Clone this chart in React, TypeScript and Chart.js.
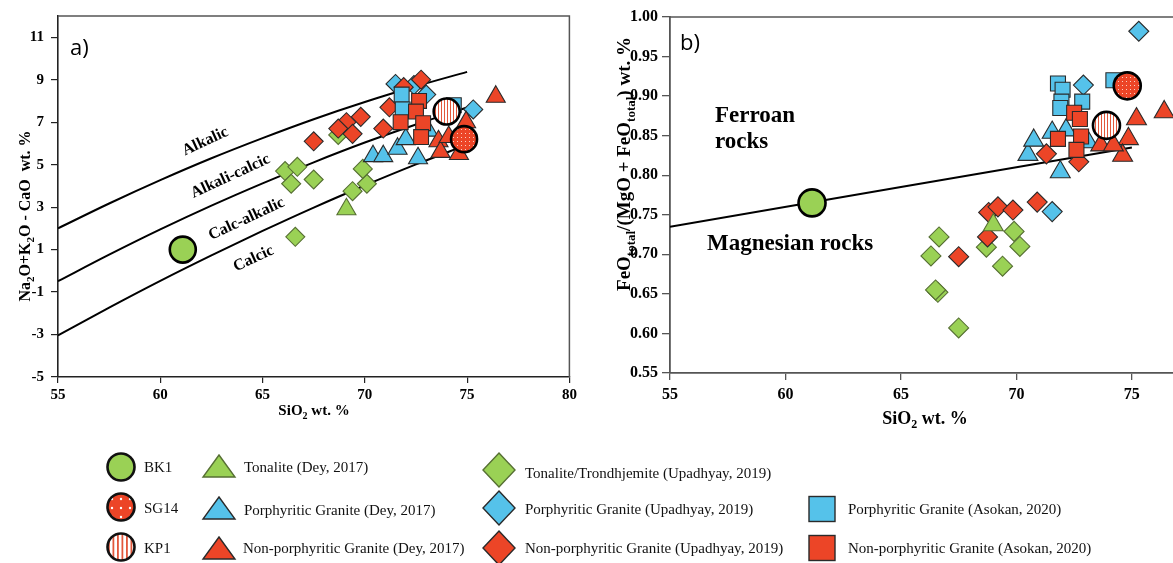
import React, { useEffect, useRef } from "react";
import { Chart, registerables } from "chart.js";

Chart.register(...registerables);

const SERIF = "'Liberation Serif', 'Times New Roman', serif";
const SANS = "'Open Sans', 'Liberation Sans', sans-serif";

const GREEN = "#9AD155";
const BLUE = "#55C2EA";
const RED = "#EC4527";
const EDGE = "#2a2a2a";
const GREEN_EDGE = "#566f33";

type P = [number, number];

// ---------- Panel a : MALI (Na2O+K2O-CaO vs SiO2) ----------
const A_X_TICKS = [55, 60, 65, 70, 75, 80];
const A_Y_TICKS = [-5, -3, -1, 1, 3, 5, 7, 9, 11];

const A_BK1: P[] = [[61.1, 1.0]];
const A_SG14: P[] = [[74.85, 6.2]];
const A_KP1: P[] = [[74.0, 7.5]];
const A_TON_DEY: P[] = [[69.1, 2.9]];
const A_PG_DEY: P[] = [[70.4, 5.4], [70.9, 5.4], [71.6, 5.75], [72.0, 6.2], [72.6, 5.3], [73.1, 6.6]];
const A_NPG_DEY: P[] = [[76.4, 8.2], [74.95, 7.0], [73.6, 6.1], [73.7, 5.6], [74.6, 5.5], [74.1, 6.3]];
const A_TT_UPA: P[] = [[66.1, 4.7], [66.7, 4.9], [66.4, 4.1], [67.5, 4.3], [69.4, 3.75], [70.1, 4.1], [69.9, 4.8], [66.6, 1.6], [68.7, 6.4]];
const A_PG_UPA: P[] = [[71.5, 8.8], [72.4, 8.75], [73.0, 8.3], [75.3, 7.6]];
const A_NPG_UPA: P[] = [[72.75, 9.0], [71.9, 8.65], [71.2, 7.7], [70.9, 6.7], [69.8, 7.25], [69.1, 7.0], [68.7, 6.7], [69.4, 6.45], [67.5, 6.1]];
const A_PG_ASO: P[] = [[71.8, 8.3], [71.85, 7.6], [74.35, 7.8]];
const A_NPG_ASO: P[] = [[72.65, 8.0], [72.5, 7.5], [71.75, 7.0], [72.85, 6.95], [72.75, 6.3]];

// boundary curves
const A_LINE_ALK: P[] = [[55, 2.0], [57.5, 3.17], [60, 4.27], [62.5, 5.3], [65, 6.25], [67.5, 7.14], [70, 7.95], [72.5, 8.69], [75, 9.37]];
const A_LINE_ACA: P[] = [[55, -0.49], [57.5, 0.76], [60, 1.95], [62.5, 3.07], [65, 4.12], [67.5, 5.11], [70, 6.04], [72.5, 6.89], [75, 7.69]];
const A_LINE_CAC: P[] = [[55, -3.04], [57.5, -1.73], [60, -0.47], [62.5, 0.73], [65, 1.88], [67.5, 2.98], [70, 4.02], [72.5, 5.01], [75, 5.94]];

const A_ZONE_NAMES = ["Alkalic", "Alkali-calcic", "Calc-alkalic", "Calcic"];
const A_ZONE_POS: P[] = [[62.2, 6.09], [63.43, 4.45], [64.22, 2.44], [64.56, 0.57]];

// ---------- Panel b : Fe-number vs SiO2 ----------
const B_X_TICKS = [55, 60, 65, 70, 75];
const B_Y_TICKS = [0.55, 0.6, 0.65, 0.7, 0.75, 0.8, 0.85, 0.9, 0.95, 1.0];

const B_BK1: P[] = [[61.15, 0.765]];
const B_SG14: P[] = [[74.8, 0.913]];
const B_KP1: P[] = [[73.9, 0.863]];
const B_TON_DEY: P[] = [[69.0, 0.737]];
const B_PG_DEY: P[] = [[70.5, 0.826], [70.75, 0.844], [71.55, 0.854], [72.15, 0.857], [71.9, 0.804], [73.1, 0.842]];
const B_NPG_DEY: P[] = [[76.4, 0.88], [75.2, 0.871], [74.85, 0.846], [74.6, 0.825], [73.65, 0.838], [74.2, 0.838]];
const B_TT_UPA: P[] = [[66.65, 0.722], [66.3, 0.698], [66.6, 0.652], [66.5, 0.655], [67.5, 0.607], [68.7, 0.709], [69.4, 0.685], [69.9, 0.729], [70.15, 0.71]];
const B_PG_UPA: P[] = [[75.3, 0.982], [72.9, 0.914], [71.55, 0.754]];
const B_NPG_UPA: P[] = [[71.3, 0.827], [72.7, 0.817], [70.9, 0.766], [68.8, 0.753], [69.2, 0.76], [69.85, 0.756], [68.75, 0.722], [67.5, 0.697]];
const B_PG_ASO: P[] = [[71.8, 0.916], [72.0, 0.908], [71.95, 0.893], [71.9, 0.885], [72.85, 0.893], [74.2, 0.92]];
const B_NPG_ASO: P[] = [[72.5, 0.879], [72.75, 0.871], [71.8, 0.846], [72.8, 0.849], [72.6, 0.832]];

const B_LINE: P[] = [[55, 0.735], [75, 0.835]];

const B_TEXTS = ["Ferroan", "rocks", "Magnesian rocks"];
const B_TEXT_POS: P[] = [[56.95, 0.8676], [56.95, 0.8346], [56.6, 0.7053]];

// ---------- Legend ----------
type LegendItem = { label: string; shape: string; fill: string; ix: number; iy: number; tx: number; ty: number };
const LEGEND: LegendItem[] = [
  { label: "BK1", shape: "circle", fill: GREEN, ix: 121, iy: 467, tx: 144, ty: 467 },
  { label: "SG14", shape: "circle", fill: "url(#lgDots)", ix: 121, iy: 507, tx: 144, ty: 508 },
  { label: "KP1", shape: "circle", fill: "url(#lgStripes)", ix: 121, iy: 547, tx: 144, ty: 548 },
  { label: "Tonalite (Dey, 2017)", shape: "triangle", fill: GREEN, ix: 219, iy: 467, tx: 244, ty: 467 },
  { label: "Porphyritic Granite (Dey, 2017)", shape: "triangle", fill: BLUE, ix: 219, iy: 509, tx: 244, ty: 510 },
  { label: "Non-porphyritic Granite (Dey, 2017)", shape: "triangle", fill: RED, ix: 219, iy: 549, tx: 243, ty: 548 },
  { label: "Tonalite/Trondhjemite (Upadhyay, 2019)", shape: "diamond", fill: GREEN, ix: 499, iy: 470, tx: 525, ty: 473 },
  { label: "Porphyritic Granite (Upadhyay, 2019)", shape: "diamond", fill: BLUE, ix: 499, iy: 508, tx: 525, ty: 509 },
  { label: "Non-porphyritic Granite (Upadhyay, 2019)", shape: "diamond", fill: RED, ix: 499, iy: 548, tx: 525, ty: 548 },
  { label: "Porphyritic Granite (Asokan, 2020)", shape: "square", fill: BLUE, ix: 822, iy: 509, tx: 848, ty: 509 },
  { label: "Non-porphyritic Granite (Asokan, 2020)", shape: "square", fill: RED, ix: 822, iy: 548, tx: 848, ty: 548 },
];

// ---------- helpers ----------
const toXY = (a: P[]) => a.map(([x, y]) => ({ x, y }));

function dotPattern(ctx: CanvasRenderingContext2D): CanvasPattern {
  const c = document.createElement("canvas");
  c.width = 4;
  c.height = 4;
  const g = c.getContext("2d")!;
  g.fillStyle = RED;
  g.fillRect(0, 0, 4, 4);
  g.fillStyle = "#fbd0c4";
  g.fillRect(1, 1, 1, 1);
  return ctx.createPattern(c, "repeat")!;
}

function stripePattern(ctx: CanvasRenderingContext2D): CanvasPattern {
  const c = document.createElement("canvas");
  c.width = 3;
  c.height = 3;
  const g = c.getContext("2d")!;
  g.fillStyle = "#ffffff";
  g.fillRect(0, 0, 3, 3);
  g.fillStyle = "#e2583c";
  g.fillRect(0, 0, 1, 3);
  return ctx.createPattern(c, "repeat")!;
}

type Seg = { t: string; sub?: boolean };
function drawRich(ctx: CanvasRenderingContext2D, segs: Seg[], cx: number, cy: number, size: number, rot: number, subRatio = 0.68) {
  ctx.save();
  ctx.translate(cx, cy);
  ctx.rotate(rot);
  const main = `bold ${size}px ${SERIF}`;
  const subSize = Math.round(size * subRatio);
  const subF = `bold ${subSize}px ${SERIF}`;
  let total = 0;
  const widths = segs.map((s) => {
    ctx.font = s.sub ? subF : main;
    const w = ctx.measureText(s.t).width;
    total += w;
    return w;
  });
  let x = -total / 2;
  ctx.textAlign = "left";
  ctx.textBaseline = "alphabetic";
  ctx.fillStyle = "#000";
  const base = size * 0.33;
  segs.forEach((s, i) => {
    ctx.font = s.sub ? subF : main;
    ctx.fillText(s.t, x, base + (s.sub ? size * 0.24 : 0));
    x += widths[i];
  });
  ctx.restore();
}

function markerSets(
  d: { bk1: P[]; sg14: P[]; kp1: P[]; tonDey: P[]; pgDey: P[]; npgDey: P[]; ttUpa: P[]; pgUpa: P[]; npgUpa: P[]; pgAso: P[]; npgAso: P[] },
  dots: CanvasPattern,
  stripes: CanvasPattern,
  sz: { circ: number; tri: number; dia: number; sq: number }
) {
  const base = (data: P[], style: string, r: number, fill: any, edge: string, bw: number) => ({
    data: toXY(data),
    showLine: false,
    pointStyle: style,
    pointRadius: r,
    pointHoverRadius: r,
    pointBackgroundColor: fill,
    pointBorderColor: edge,
    pointBorderWidth: bw,
    clip: false,
  });
  return [
    base(d.sg14, "circle", sz.circ, dots, "#000", 2.6),
    base(d.kp1, "circle", sz.circ, stripes, "#000", 2.6),
    base(d.bk1, "circle", sz.circ, GREEN, "#000", 2.6),
    base(d.npgAso, "rect", sz.sq, RED, EDGE, 1.1),
    base(d.pgAso, "rect", sz.sq, BLUE, EDGE, 1.1),
    base(d.npgDey, "triangle", sz.tri, RED, EDGE, 1.1),
    base(d.pgDey, "triangle", sz.tri, BLUE, EDGE, 1.1),
    base(d.tonDey, "triangle", sz.tri, GREEN, GREEN_EDGE, 1.1),
    base(d.npgUpa, "rectRot", sz.dia, RED, EDGE, 1.1),
    base(d.pgUpa, "rectRot", sz.dia, BLUE, EDGE, 1.1),
    base(d.ttUpa, "rectRot", sz.dia, GREEN, GREEN_EDGE, 1.1),
  ];
}

function lineSet(data: P[]) {
  return {
    data: toXY(data),
    showLine: true,
    pointRadius: 0,
    borderColor: "#000",
    borderWidth: 2,
    fill: false,
    cubicInterpolationMode: "monotone",
  };
}

function makeChartA(canvas: HTMLCanvasElement) {
  const ctx = canvas.getContext("2d")!;
  const dots = dotPattern(ctx);
  const stripes = stripePattern(ctx);
  const plugin = {
    id: "panelA",
    beforeDatasetsDraw(chart: any) {
      const c = chart.ctx as CanvasRenderingContext2D;
      const { x, y } = chart.scales;
      c.save();
      c.font = `bold 16px ${SERIF}`;
      c.fillStyle = "#000";
      c.textAlign = "center";
      c.textBaseline = "middle";
      A_ZONE_NAMES.forEach((name, i) => {
        c.save();
        c.translate(x.getPixelForValue(A_ZONE_POS[i][0]), y.getPixelForValue(A_ZONE_POS[i][1]));
        c.rotate((-25 * Math.PI) / 180);
        c.fillText(name, 0, 0);
        c.restore();
      });
      c.restore();
    },
    afterDraw(chart: any) {
      const c = chart.ctx as CanvasRenderingContext2D;
      const { left, right, top, bottom } = chart.chartArea;
      c.save();
      c.strokeStyle = "#555";
      c.lineWidth = 1.5;
      c.beginPath();
      c.moveTo(left, top);
      c.lineTo(right, top);
      c.lineTo(right, bottom);
      c.stroke();
      c.font = `22px ${SANS}`;
      c.fillStyle = "#000";
      c.textAlign = "left";
      c.textBaseline = "alphabetic";
      c.fillText("a)", left + 12, top + 39);
      c.restore();
      drawRich(c, [{ t: "Na" }, { t: "2", sub: true }, { t: "O+K" }, { t: "2", sub: true }, { t: "O - CaO  wt. %" }], 25, 216, 16, -Math.PI / 2);
      drawRich(c, [{ t: "SiO" }, { t: "2", sub: true }, { t: " wt. %" }], 314, 410, 15, 0);
    },
  };
  return new Chart(canvas, {
    type: "scatter",
    data: {
      datasets: [
        ...markerSets(
          { bk1: A_BK1, sg14: A_SG14, kp1: A_KP1, tonDey: A_TON_DEY, pgDey: A_PG_DEY, npgDey: A_NPG_DEY, ttUpa: A_TT_UPA, pgUpa: A_PG_UPA, npgUpa: A_NPG_UPA, pgAso: A_PG_ASO, npgAso: A_NPG_ASO },
          dots,
          stripes,
          { circ: 13, tri: 11, dia: 9.5, sq: 10.5 }
        ),
        lineSet(A_LINE_ALK),
        lineSet(A_LINE_ACA),
        lineSet(A_LINE_CAC),
      ] as any,
    },
    options: {
      responsive: false,
      animation: false,
      events: [],
      layout: { padding: { top: 13, right: 15, left: 0, bottom: 0 } },
      plugins: { legend: { display: false }, tooltip: { enabled: false } },
      scales: {
        x: {
          type: "linear",
          min: 55,
          max: 80,
          afterBuildTicks: (ax: any) => {
            ax.ticks = A_X_TICKS.map((v) => ({ value: v }));
          },
          afterFit: (s: any) => {
            s.height = 48;
          },
          grid: { display: true, drawOnChartArea: false, drawTicks: true, tickLength: 6, color: "#222", lineWidth: 1.2 },
          border: { display: true, color: "#222", width: 1.6 },
          ticks: { font: { family: SERIF, size: 15, weight: "bold" }, color: "#000", padding: 3, maxRotation: 0, autoSkip: false },
        },
        y: {
          type: "linear",
          min: -5,
          max: 12,
          afterBuildTicks: (ax: any) => {
            ax.ticks = A_Y_TICKS.map((v) => ({ value: v }));
          },
          afterFit: (s: any) => {
            s.width = 58;
          },
          grid: { display: true, drawOnChartArea: false, drawTicks: true, tickLength: 7, color: "#222", lineWidth: 1.2 },
          border: { display: true, color: "#222", width: 1.6 },
          ticks: { font: { family: SERIF, size: 15, weight: "bold" }, color: "#000", padding: 7, autoSkip: false },
        },
      },
    } as any,
    plugins: [plugin],
  });
}

function makeChartB(canvas: HTMLCanvasElement) {
  const ctx = canvas.getContext("2d")!;
  const dots = dotPattern(ctx);
  const stripes = stripePattern(ctx);
  const plugin = {
    id: "panelB",
    beforeDatasetsDraw(chart: any) {
      const c = chart.ctx as CanvasRenderingContext2D;
      const { x, y } = chart.scales;
      c.save();
      c.font = `bold 23px ${SERIF}`;
      c.fillStyle = "#000";
      c.textAlign = "left";
      c.textBaseline = "alphabetic";
      B_TEXTS.forEach((t, i) => {
        c.fillText(t, x.getPixelForValue(B_TEXT_POS[i][0]), y.getPixelForValue(B_TEXT_POS[i][1]));
      });
      c.restore();
    },
    afterDraw(chart: any) {
      const c = chart.ctx as CanvasRenderingContext2D;
      const { left, right, top } = chart.chartArea;
      c.save();
      c.strokeStyle = "#555";
      c.lineWidth = 1.5;
      c.beginPath();
      c.moveTo(left, top);
      c.lineTo(right + 20, top);
      c.stroke();
      c.font = `22px ${SANS}`;
      c.fillStyle = "#000";
      c.textAlign = "left";
      c.textBaseline = "alphabetic";
      c.fillText("b)", left + 10, top + 33);
      c.restore();
      drawRich(
        c,
        [{ t: "FeO" }, { t: "total", sub: true }, { t: "/(MgO + FeO" }, { t: "total", sub: true }, { t: ") wt. %" }],
        39,
        164,
        19,
        -Math.PI / 2,
        0.66
      );
      drawRich(c, [{ t: "SiO" }, { t: "2", sub: true }, { t: " wt. %" }], 340, 418, 18, 0);
    },
  };
  return new Chart(canvas, {
    type: "scatter",
    data: {
      datasets: [
        ...markerSets(
          { bk1: B_BK1, sg14: B_SG14, kp1: B_KP1, tonDey: B_TON_DEY, pgDey: B_PG_DEY, npgDey: B_NPG_DEY, ttUpa: B_TT_UPA, pgUpa: B_PG_UPA, npgUpa: B_NPG_UPA, pgAso: B_PG_ASO, npgAso: B_NPG_ASO },
          dots,
          stripes,
          { circ: 13.5, tri: 11.5, dia: 10, sq: 10.6 }
        ),
        lineSet(B_LINE),
      ] as any,
    },
    options: {
      responsive: false,
      animation: false,
      events: [],
      layout: { padding: { top: 17, right: 0, left: 0, bottom: 0 } },
      plugins: { legend: { display: false }, tooltip: { enabled: false } },
      scales: {
        x: {
          type: "linear",
          min: 55,
          max: 76.82,
          afterBuildTicks: (ax: any) => {
            ax.ticks = B_X_TICKS.map((v) => ({ value: v }));
          },
          afterFit: (s: any) => {
            s.height = 57;
          },
          grid: { display: true, drawOnChartArea: false, drawTicks: true, tickLength: 7, color: "#555", lineWidth: 1.3 },
          border: { display: true, color: "#555", width: 1.8 },
          ticks: { font: { family: SERIF, size: 16, weight: "bold" }, color: "#000", padding: 5, maxRotation: 0, autoSkip: false },
        },
        y: {
          type: "linear",
          min: 0.55,
          max: 1.0,
          afterBuildTicks: (ax: any) => {
            ax.ticks = B_Y_TICKS.map((v) => ({ value: v }));
          },
          afterFit: (s: any) => {
            s.width = 85;
          },
          grid: { display: true, drawOnChartArea: false, drawTicks: true, tickLength: 8, color: "#555", lineWidth: 1.3 },
          border: { display: true, color: "#555", width: 1.8 },
          ticks: {
            font: { family: SERIF, size: 16, weight: "bold" },
            color: "#000",
            padding: 4,
            autoSkip: false,
            callback: (v: any) => Number(v).toFixed(2),
          },
        },
      },
    } as any,
    plugins: [plugin],
  });
}

function LegendIcon({ it }: { it: LegendItem }) {
  const { ix: x, iy: y, fill } = it;
  if (it.shape === "circle") return <circle cx={x} cy={y} r={13.5} fill={fill} stroke="#111" strokeWidth={2.6} />;
  if (it.shape === "triangle")
    return <polygon points={`${x},${y - 12} ${x + 16},${y + 10} ${x - 16},${y + 10}`} fill={fill} stroke={it.fill === GREEN ? GREEN_EDGE : EDGE} strokeWidth={1.4} />;
  if (it.shape === "diamond")
    return <polygon points={`${x},${y - 17} ${x + 16},${y} ${x},${y + 17} ${x - 16},${y}`} fill={fill} stroke={it.fill === GREEN ? GREEN_EDGE : EDGE} strokeWidth={1.4} />;
  return <rect x={x - 13} y={y - 12.5} width={26} height={25} fill={fill} stroke={EDGE} strokeWidth={1.4} />;
}

function Legend() {
  return (
    <>
      <svg width={1173} height={563} style={{ position: "absolute", left: 0, top: 0, pointerEvents: "none" }}>
        <defs>
          <pattern id="lgDots" width="9" height="9" patternUnits="userSpaceOnUse">
            <rect width="9" height="9" fill={RED} />
            <circle cx="4" cy="4" r="1.2" fill="#fff" />
          </pattern>
          <pattern id="lgStripes" width="4.5" height="4.5" patternUnits="userSpaceOnUse">
            <rect width="4.5" height="4.5" fill="#fff" />
            <rect width="1.8" height="4.5" fill="#e2583c" />
          </pattern>
        </defs>
        {LEGEND.map((it, i) => (
          <LegendIcon key={i} it={it} />
        ))}
      </svg>
      {LEGEND.map((it, i) => (
        <span
          key={i}
          style={{
            position: "absolute",
            left: it.tx,
            top: it.ty - 9,
            font: `15px ${SERIF}`,
            lineHeight: "18px",
            whiteSpace: "nowrap",
            color: "#111",
          }}
        >
          {it.label}
        </span>
      ))}
    </>
  );
}

export default function App() {
  const refA = useRef<HTMLCanvasElement>(null);
  const refB = useRef<HTMLCanvasElement>(null);
  useEffect(() => {
    const charts: Chart[] = [];
    if (refA.current) charts.push(makeChartA(refA.current));
    if (refB.current) charts.push(makeChartB(refB.current));
    return () => charts.forEach((c) => c.destroy());
  }, []);
  return (
    <div style={{ position: "absolute", left: 0, top: 0, width: 1173, height: 563, background: "#fff", overflow: "hidden" }}>
      <canvas ref={refA} width={585} height={425} style={{ position: "absolute", left: 0, top: 0, width: 585, height: 425 }} />
      <canvas ref={refB} width={605} height={430} style={{ position: "absolute", left: 585, top: 0, width: 605, height: 430 }} />
      <Legend />
    </div>
  );
}
